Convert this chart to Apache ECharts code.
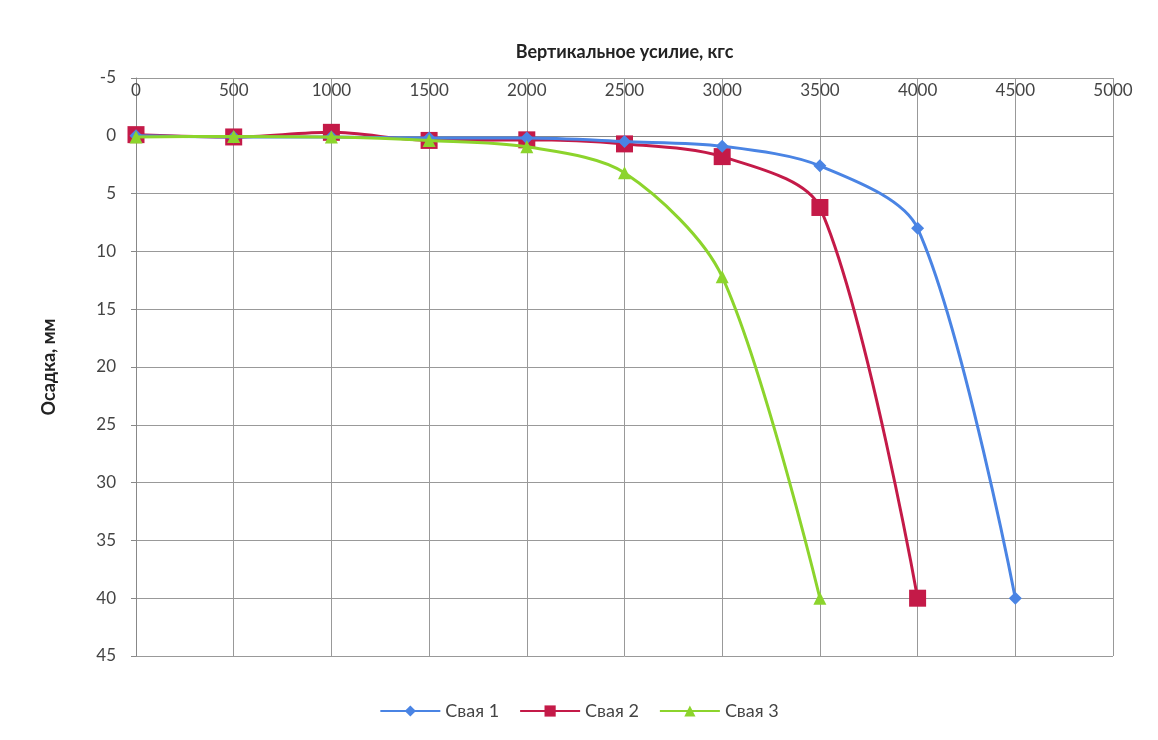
<!DOCTYPE html>
<html><head><meta charset="utf-8">
<script src="https://cdn.jsdelivr.net/npm/echarts@6/dist/echarts.min.js"></script>
<style>html,body{margin:0;padding:0;background:#fff}#c{width:1158px;height:740px}</style>
</head><body><div id="c"></div>
<script>
const loads = [0, 500, 1000, 1500, 2000, 2500, 3000, 3500, 4000, 4500];
const pile1 = [0, 0.1, 0.1, 0.2, 0.2, 0.5, 0.9, 2.6, 8.0, 40];
const pile2 = [-0.1, 0.1, -0.3, 0.4, 0.35, 0.7, 1.8, 6.2, 40];
const pile3 = [0.1, 0.05, 0.1, 0.4, 0.95, 3.2, 12.2, 40];
const names = ['Свая 1', 'Свая 2', 'Свая 3'];
const colors = ['#4a84e4', '#c41a48', '#8cd42c'];
const xTicks = [0, 500, 1000, 1500, 2000, 2500, 3000, 3500, 4000, 4500, 5000];
const yTicks = [-5, 0, 5, 10, 15, 20, 25, 30, 35, 40, 45];

const pair = arr => arr.map((v, i) => [loads[i], v]);
const font = 'Lato, "Open Sans", sans-serif';
const chart = echarts.init(document.getElementById('c'));
chart.setOption({
  animation: false,
  backgroundColor: '#fff',
  grid: {left: 136, right: 45, top: 78, bottom: 84},
  legend: {
    bottom: 15, left: 'center', itemWidth: 60, itemHeight: 14, itemGap: 20,
    textStyle: {fontFamily: font, fontSize: 18, color: '#444'},
    data: names
  },
  xAxis: {
    type: 'value', position: 'top', min: xTicks[0], max: xTicks[xTicks.length-1], interval: 500,
    name: 'Вертикальное усилие, кгс', nameLocation: 'middle', nameGap: 17,
    nameTextStyle: {fontFamily: font, fontSize: 18, fontWeight: 'bold', color: '#222'},
    axisLine: {lineStyle: {color: '#888'}},
    axisTick: {show: false},
    axisLabel: {inside: true, margin: 4, fontFamily: font, fontSize: 17, color: '#444',
      formatter: v => String(v)},
    splitLine: {show: true, lineStyle: {color: '#999', width: 1}}
  },
  yAxis: {
    type: 'value', inverse: true, min: yTicks[0], max: yTicks[yTicks.length-1], interval: 5,
    name: 'Осадка, мм', nameLocation: 'middle', nameGap: 78, nameRotate: 90,
    nameTextStyle: {fontFamily: font, fontSize: 18, fontWeight: 'bold', color: '#222'},
    axisLine: {show: true, lineStyle: {color: '#888'}},
    axisTick: {show: true, length: 5, lineStyle: {color: '#888'}},
    axisLabel: {margin: 20, fontFamily: font, fontSize: 17, color: '#444'},
    splitLine: {show: true, lineStyle: {color: '#999', width: 1}}
  },
  series: [
    {name: names[0], type: 'line', smooth: 0.3, data: pair(pile1), symbol: 'diamond', symbolSize: 13,
     lineStyle: {width: 3, color: colors[0]}, itemStyle: {color: colors[0]}, z: 3},
    {name: names[1], type: 'line', smooth: 0.3, data: pair(pile2), symbol: 'rect', symbolSize: 17,
     lineStyle: {width: 3, color: colors[1]}, itemStyle: {color: colors[1]}, z: 2},
    {name: names[2], type: 'line', smooth: 0.3, data: pair(pile3), symbol: 'triangle', symbolSize: 13,
     lineStyle: {width: 3, color: colors[2]}, itemStyle: {color: colors[2]}, z: 4}
  ]
});
</script></body></html>
